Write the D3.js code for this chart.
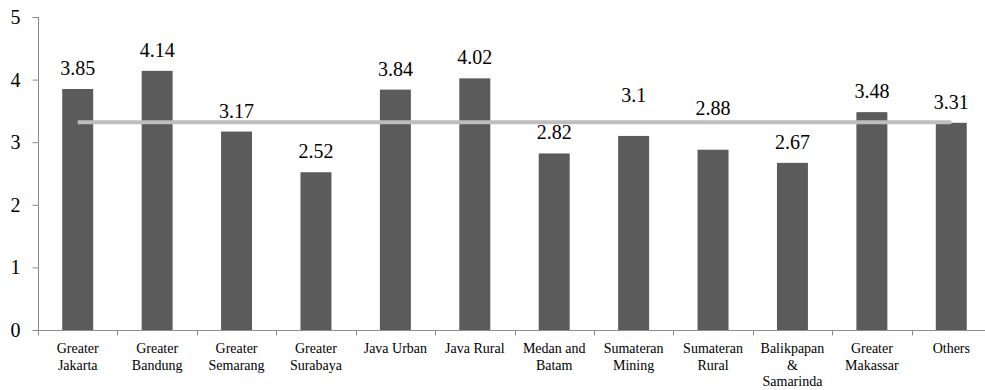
<!DOCTYPE html>
<html>
<head>
<meta charset="utf-8">
<script src="https://cdn.jsdelivr.net/npm/d3@7"></script>
</head>
<body style="margin:0; background:#fff">
<svg id="chart" width="985" height="390" font-family="Liberation Serif" style="display:block"></svg>
<script>
// Chart data
const categories = [
    ['Greater', 'Jakarta'], ['Greater', 'Bandung'], ['Greater', 'Semarang'], ['Greater', 'Surabaya'],
    ['Java Urban'], ['Java Rural'], ['Medan and', 'Batam'], ['Sumateran', 'Mining'],
    ['Sumateran', 'Rural'], ['Balikpapan', '&', 'Samarinda'], ['Greater', 'Makassar'], ['Others']
];
const values = [3.85, 4.14, 3.17, 2.52, 3.84, 4.02, 2.82, 3.1, 2.88, 2.67, 3.48, 3.31];
const averageLine = [3.32, 3.32, 3.32, 3.32, 3.32, 3.32, 3.32, 3.32, 3.32, 3.32, 3.32, 3.32];
const yTicks = [0, 1, 2, 3, 4, 5];

// labels moved up by hand so they clear the grey line
const labelShift = [0, 0, 0, 0, 0, 0, 0, -20, -21, 0, 0, 0];

const FONT = '"Liberation Serif", "Times New Roman", serif';
const plotLeft = 38, plotRight = 991, plotTop = 17, plotBottom = 330;

const svg = d3.select('#chart');

const keys = categories.map((c, i) => i);

const x = d3.scaleBand()
    .domain(keys)
    .range([plotLeft, plotRight])
    .padding(0);

const y = d3.scaleLinear()
    .domain([0, 5])
    .range([plotBottom, plotTop]);

const bw = x.bandwidth();
const barW = bw * 0.39;

// y axis
const yAxis = svg.append('g')
    .attr('transform', `translate(${plotLeft + 0.5},0)`)
    .call(d3.axisLeft(y).tickValues(yTicks).tickSize(6).tickPadding(12).tickFormat(d3.format('d')));
yAxis.attr('font-family', null).attr('font-size', null);
yAxis.select('.domain').attr('stroke', '#8c8c8c').attr('d', `M-6,${plotTop + 0.5}H0V${plotBottom + 0.5}`);
yAxis.selectAll('.tick line').attr('stroke', '#8c8c8c');
yAxis.selectAll('.tick text')
    .style('font-family', FONT)
    .style('font-size', '20px')
    .attr('fill', '#000');

// bars
svg.selectAll('.bar')
    .data(values)
    .enter().append('rect')
    .attr('class', 'bar')
    .attr('x', (d, i) => x(i) + (bw - barW) / 2)
    .attr('y', d => y(d))
    .attr('width', barW)
    .attr('height', d => y(0) - y(d))
    .attr('fill', '#5b5b5b');

// x axis
const xg = svg.append('g').attr('transform', `translate(0,${plotBottom + 0.5})`);
xg.append('line')
    .attr('x1', plotLeft).attr('x2', plotRight)
    .attr('stroke', '#8c8c8c');
const boundaries = keys.map(k => x(k)).concat([plotRight]);
xg.selectAll('.xtick')
    .data(boundaries)
    .enter().append('line')
    .attr('x1', d => Math.round(d) + 0.5).attr('x2', d => Math.round(d) + 0.5)
    .attr('y1', 0).attr('y2', 5)
    .attr('stroke', '#8c8c8c');

// category labels
const catLabel = svg.selectAll('.cat')
    .data(categories)
    .enter().append('text')
    .attr('class', 'cat')
    .attr('text-anchor', 'middle')
    .style('font-family', FONT)
    .style('font-size', '14px')
    .attr('fill', '#000');
catLabel.each(function(lines, i) {
    const t = d3.select(this);
    lines.forEach((ln, j) => {
        t.append('tspan')
            .attr('x', x(i) + bw / 2)
            .attr('y', 353 + j * 16.7)
            .text(ln);
    });
});

// average line
const line = d3.line()
    .x((d, i) => x(i) + bw / 2)
    .y(d => y(d));
svg.append('path')
    .datum(averageLine)
    .attr('d', line)
    .attr('fill', 'none')
    .attr('stroke', '#bdbdbd')
    .attr('stroke-width', 4);

// value labels
svg.selectAll('.val')
    .data(values)
    .enter().append('text')
    .attr('class', 'val')
    .attr('x', (d, i) => x(i) + bw / 2)
    .attr('y', (d, i) => y(d) - 14 + labelShift[i])
    .attr('text-anchor', 'middle')
    .style('font-family', FONT)
    .style('font-size', '20px')
    .attr('fill', '#000')
    .text(d => d);
</script>
</body>
</html>
